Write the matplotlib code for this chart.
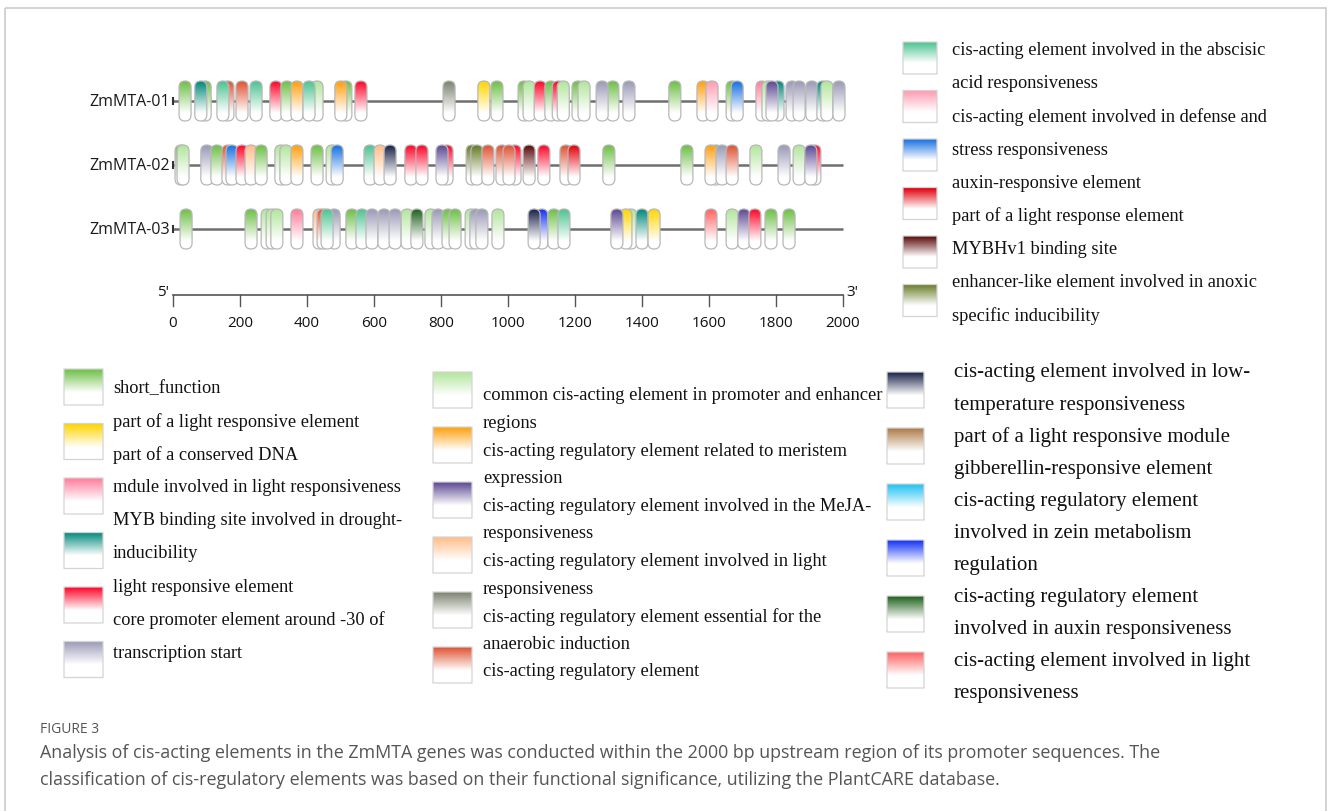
import numpy as np
import matplotlib
matplotlib.use("Agg")
import matplotlib.pyplot as plt
from matplotlib.patches import FancyBboxPatch, Rectangle
from matplotlib.colors import to_rgb

# elementi cis sui promotori (posizione centrale in bp, tipo di elemento)
geni = ["ZmMTA-01", "ZmMTA-02", "ZmMTA-03"]

mta01_pos = [96, 83, 36, 164, 149, 206, 248, 307, 340, 370, 430, 406, 516, 501, 561,
             824, 928, 967, 1048, 1063, 1096, 1128, 1150, 1165, 1209, 1227, 1313, 1281,
             1361, 1498, 1582, 1609, 1669, 1684, 1758, 1776, 1806, 1788, 1848, 1869,
             1907, 1940, 1952, 1988]
mta01_tipo = ["short", "myb", "short", "cisreg", "aba", "cisreg", "aba", "lre", "short",
              "meristem", "caat", "aba", "short", "meristem", "lre",
              "anaer", "yellow", "short", "short", "caat", "lre", "short", "lre", "caat",
              "short", "caat", "short", "tata",
              "tata", "short", "meristem", "defense", "short", "stress", "pink", "caat",
              "myb", "meja", "tata", "tata",
              "tata", "myb", "caat", "tata"]

mta02_pos = [24, 30, 101, 131, 164, 176, 206, 233, 263, 322, 337, 370, 430, 475, 490,
             588, 618, 648, 710, 743, 818, 803, 893, 907, 940, 982, 1021, 1003, 1063,
             1107, 1173, 1197, 1301, 1534, 1621, 1606, 1639, 1669, 1740, 1824, 1869,
             1916, 1904]
mta02_tipo = ["short", "caat", "tata", "short", "cisreg", "stress", "lre", "lightreg",
              "short", "caat", "caat", "meristem", "short", "caat", "stress",
              "aba", "lightreg", "lowtemp", "lre", "lre", "lre", "meja", "anoxic", "anoxic",
              "cisreg", "cisreg", "lre", "cisreg", "mybhv1",
              "lre", "cisreg", "auxin", "short", "short", "short", "meristem", "tata",
              "cisreg", "caat", "tata", "caat",
              "lre", "meja"]

mta03_pos = [39, 233, 281, 296, 310, 370, 436, 448, 481, 460, 534, 564, 594, 630, 663,
             699, 728, 770, 791, 821, 842, 890, 904, 922, 970, 1101, 1078, 1137, 1167,
             1367, 1352, 1325, 1400, 1436, 1606, 1669, 1704, 1737, 1785, 1839]
mta03_tipo = ["short", "short", "caat", "caat", "caat", "pink", "lightreg", "cisreg",
              "tata", "aba", "short", "aba", "tata", "tata", "tata",
              "caat", "auxin2", "caat", "tata", "short", "short", "caat", "tata", "tata",
              "caat", "blue", "lowtemp", "short", "aba",
              "caat", "yellow", "meja", "myb", "yellow", "lightresp", "caat", "meja",
              "lre", "short", "short"]

tick_bp = [0, 200, 400, 600, 800, 1000, 1200, 1400, 1600, 1800, 2000]

# colori dei tipi di elemento
colori = {
    "short": "#6dbf45", "yellow": "#ffd500", "pink": "#ff7d9c", "myb": "#00887a",
    "lre": "#ff0528", "tata": "#9a99b6", "aba": "#4cc391", "defense": "#ff9db2",
    "stress": "#1670e0", "auxin": "#e2000c", "mybhv1": "#5a0808", "anoxic": "#667a26",
    "caat": "#b2e59c", "meristem": "#ffa010", "meja": "#5c4892", "lightreg": "#ffbd88",
    "anaer": "#7b8470", "cisreg": "#df5232", "lowtemp": "#1a2248", "module": "#ad7a48",
    "zein": "#1ec2f2", "blue": "#1030f5", "auxin2": "#20601c", "lightresp": "#ff6262",
}

# legende: tipi dei quadratini e righe di testo
leg_alto_tipi = ["aba", "defense", "stress", "auxin", "mybhv1", "anoxic"]
leg_alto_testo = ["cis-acting element involved in the abscisic", "acid responsiveness",
                  "cis-acting element involved in defense and", "stress responsiveness",
                  "auxin-responsive element", "part of a light response element",
                  "MYBHv1 binding site", "enhancer-like element involved in anoxic",
                  "specific inducibility"]
leg1_tipi = ["short", "yellow", "pink", "myb", "lre", "tata"]
leg1_testo = ["short_function", "part of a light responsive element",
              "part of a conserved DNA", "mdule involved in light responsiveness",
              "MYB binding site involved in drought-", "inducibility",
              "light responsive element", "core promoter element around -30 of",
              "transcription start"]
leg2_tipi = ["caat", "meristem", "meja", "lightreg", "anaer", "cisreg"]
leg2_testo = ["common cis-acting element in promoter and enhancer", "regions",
              "cis-acting regulatory element related to meristem", "expression",
              "cis-acting regulatory element involved in the MeJA-", "responsiveness",
              "cis-acting regulatory element involved in light", "responsiveness",
              "cis-acting regulatory element essential for the", "anaerobic induction",
              "cis-acting regulatory element"]
leg3_tipi = ["lowtemp", "module", "zein", "blue", "auxin2", "lightresp"]
leg3_testo = ["cis-acting element involved in low-", "temperature responsiveness",
              "part of a light responsive module", "gibberellin-responsive element",
              "cis-acting regulatory element", "involved in zein metabolism",
              "regulation", "cis-acting regulatory element",
              "involved in auxin responsiveness", "cis-acting element involved in light",
              "responsiveness"]

didascalia_titolo = "FIGURE 3"
didascalia = ["Analysis of cis-acting elements in the ZmMTA genes was conducted within the "
              "2000 bp upstream region of its promoter sequences. The",
              "classification of cis-regulatory elements was based on their functional "
              "significance, utilizing the PlantCARE database."]

W, H = 1330, 812
fig = plt.figure(figsize=(W / 100, H / 100), dpi=100)
fig.patch.set_facecolor("white")


def gradiente(colore, fine=0.75, n=80):
    c = np.array(to_rgb(colore))
    t = np.clip(np.linspace(0, 1, n) / fine, 0, 1)[:, None]
    rgb = c * (1 - t) + np.ones(3) * t
    return rgb[:, None, :]


def blocco(ax, x0, y0, w, h, colore, z, arrot, fine=0.75, bordo="#b8b8b8"):
    patch = FancyBboxPatch((x0, y0), w, h, boxstyle=f"round,pad=0,rounding_size={arrot}",
                           fc="none", ec=bordo, lw=0.9, zorder=z + 0.005)
    ax.add_patch(patch)
    im = ax.imshow(gradiente(colore, fine), extent=(x0, x0 + w, y0 + h, y0),
                   origin="upper", aspect="auto", interpolation="bilinear", zorder=z)
    im.set_clip_path(patch)


# asse dei geni: 1 unità = 1 bp sia in x che in y (0.335 px per bp)
s = 670 / 2000
ax_px = (150, 60, 870, 345)
ax = fig.add_axes([ax_px[0] / W, 1 - ax_px[3] / H,
                   (ax_px[2] - ax_px[0]) / W, (ax_px[3] - ax_px[1]) / H])
x_lim = ((ax_px[0] - 173) / s, (ax_px[2] - 173) / s)
y_lim = ((ax_px[3] - ax_px[1]) / s, 0)
ax.set_autoscale_on(False)
ax.axis("off")

righe_y = [(102 - 60) / s, (166 - 60) / s, (230 - 60) / s]
larg = 12 / s
alt = 40 / s
tutte_pos = [mta01_pos, mta02_pos, mta03_pos]
tutti_tipi = [mta01_tipo, mta02_tipo, mta03_tipo]

for gene, y, pos, tipi in zip(geni, righe_y, tutte_pos, tutti_tipi):
    ax.plot([0, 2000], [y, y], color="#6e6e6e", lw=1.8, zorder=1, solid_capstyle="butt")
    ax.plot([0, 0], [y - 3 / s, y + 3 / s], color="#333333", lw=1.5, zorder=1)
    ax.text(-3 / s, y, gene, ha="right", va="center", fontsize=11.5,
            family="Open Sans", color="#1a1a1a")
    for i, (p, t) in enumerate(zip(pos, tipi)):
        blocco(ax, p - larg / 2, y - alt / 2, larg, alt, colori[t], 2 + i * 0.01,
               larg / 2, fine=0.8)

# scala in bp
y_sc = (296 - 60) / s
ax.plot([0, 2000], [y_sc, y_sc], color="#555555", lw=1.2)
for b in tick_bp:
    ax.plot([b, b], [y_sc, y_sc + 11 / s], color="#555555", lw=1.0)
    ax.text(b, y_sc + 28 / s, str(b), ha="center", va="center", fontsize=11,
            family="Open Sans", color="#111111")
ax.text(-4 / s, y_sc - 3 / s, "5'", ha="right", va="center", fontsize=11,
        family="Open Sans", color="#111111")
ax.text(2000 + 3 / s, y_sc - 3 / s, "3'", ha="left", va="center", fontsize=11,
        family="Open Sans", color="#111111")
ax.set_xlim(*x_lim)
ax.set_ylim(*y_lim)

# livello per legende e didascalia, in pixel
lay = fig.add_axes([0, 0, 1, 1], zorder=-1)
lay.set_autoscale_on(False)
lay.axis("off")
lay.add_patch(Rectangle((4.5, 8.5), 1321, 815, fc="none", ec="#cccccc", lw=1.2))


def legenda(tipi, testi, sx, s_top, s_passo, sw, sh, tx, t_top, t_passo, fs):
    for i, t in enumerate(tipi):
        blocco(lay, sx, s_top + i * s_passo, sw, sh, colori[t], 2, 0.01, fine=0.65,
               bordo="#d4d4d4")
    for i, riga in enumerate(testi):
        lay.text(tx, t_top + i * t_passo, riga, ha="left", va="center", fontsize=fs,
                 family="Liberation Serif", color="#111111")


legenda(leg_alto_tipi, leg_alto_testo, 903, 43, 48.5, 34, 32, 952, 50.5, 33.2, 13.2)
legenda(leg1_tipi, leg1_testo, 64, 370, 54.5, 39, 36, 113, 388.5, 33.1, 13.2)
legenda(leg2_tipi, leg2_testo, 433, 373, 55, 39, 36, 483, 396, 27.6, 13.3)
legenda(leg3_tipi, leg3_testo, 887, 373, 56, 37, 36, 954, 373, 32.1, 15)

lay.text(40, 730, didascalia_titolo, ha="left", va="center", fontsize=10,
         family="Open Sans", color="#555555")
for i, riga in enumerate(didascalia):
    lay.text(40, 753 + i * 27, riga, ha="left", va="center", fontsize=12.9,
             family="Open Sans", color="#555555")
lay.set_xlim(0, W)
lay.set_ylim(H, 0)

fig.savefig("out.png", dpi=100, facecolor="white")
